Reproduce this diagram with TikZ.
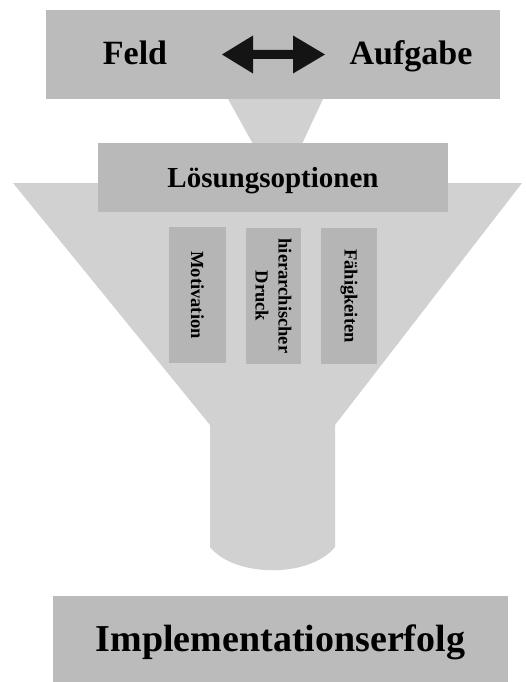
\documentclass[tikz,border=0pt]{standalone}
\usepackage{fontspec}
\setmainfont{Liberation Serif}
\begin{document}
\begin{tikzpicture}[x=1pt,y=-1pt,
  boxa/.style={fill=boxgray, inner sep=0pt},
  smallbox/.style={fill=smallgray, inner sep=0pt, minimum height=136pt},
  vtext/.style={rotate=-90, font=\bfseries\fontsize{18.5}{23}\selectfont, align=center, inner sep=0pt},
]
\definecolor{boxgray}{HTML}{BBBBBB}
\definecolor{funnelgray}{HTML}{D1D1D1}
\definecolor{smallgray}{HTML}{B5B5B5}
\definecolor{optgray}{HTML}{B9B9B9}
\definecolor{arrowblack}{HTML}{141414}
\useasboundingbox (0,0) rectangle (525,682);
% connector between top box and options box
\fill[funnelgray] (228,99) -- (323,99) -- (302,144) -- (253,144) -- cycle;
% funnel
\fill[funnelgray] (13,183) -- (522,183) -- (335,425) -- (335,547)
  .. controls (310,578) and (235,578) .. (210,547) -- (210,425) -- cycle;
% top box
\node[boxa, minimum width=454pt, minimum height=89pt] (top) at (273,54.5) {};
\node[anchor=base, font=\bfseries\fontsize{34}{40}\selectfont, inner sep=0pt] (feld) at (135,65) {Feld};
\node[anchor=base, font=\bfseries\fontsize{34}{40}\selectfont, inner sep=0pt] (aufgabe) at (411,65) {Aufgabe};
% double block arrow
\fill[arrowblack] (222,54.5) -- (253,35.5) -- (253,50) -- (293,50) -- (293,35.5) -- (325,54.5)
  -- (293,73.5) -- (293,59) -- (253,59) -- (253,73.5) -- cycle;
% options box
\node[fill=optgray, inner sep=0pt, minimum width=350pt, minimum height=69pt] (opt) at (273,177.5) {};
\node[anchor=base, font=\bfseries\fontsize{29}{34}\selectfont, inner sep=0pt] (optt) at (273,187) {Lösungsoptionen};
% small boxes
\node[smallbox, minimum width=57pt] (mot) at (197.5,295) {};
\node[vtext] (mott) at (mot) {Motivation};
\node[smallbox, minimum width=55pt] (hier) at (273.5,296) {};
\node[vtext] (hiert) at (hier) {hierarchischer\\Druck};
\node[smallbox, minimum width=56pt] (fae) at (349,296) {};
\node[vtext] (faet) at (fae) {Fähigkeiten};
% bottom box
\node[boxa, minimum width=455pt, minimum height=86pt] (impl) at (280.5,639) {};
\node[anchor=base, font=\bfseries\fontsize{38}{44}\selectfont, inner sep=0pt] (implt) at (280.5,651) {Implementationserfolg};
\end{tikzpicture}
\end{document}
